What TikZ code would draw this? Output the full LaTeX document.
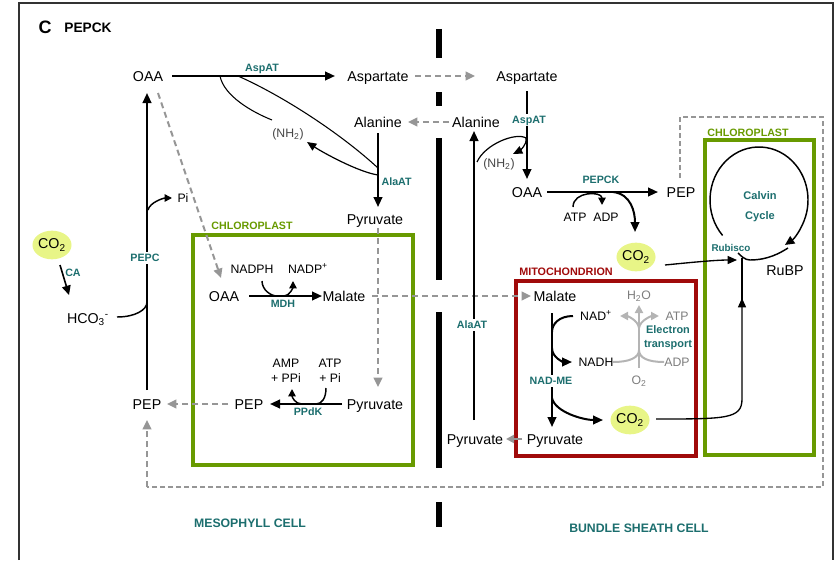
\documentclass[tikz,border=0pt]{standalone}
\usepackage{fontspec}
\setmainfont{Liberation Sans}
\usetikzlibrary{arrows.meta,calc,shapes.geometric}
\definecolor{tealc}{RGB}{28,110,110}
\definecolor{greenc}{RGB}{104,154,0}
\definecolor{redc}{RGB}{160,10,10}
\definecolor{co2fill}{RGB}{232,245,135}
\definecolor{dashc}{RGB}{150,150,150}
\definecolor{etcol}{RGB}{180,180,180}
\definecolor{graytxt}{RGB}{125,125,125}
\definecolor{nhc}{RGB}{70,70,70}
\definecolor{framec}{RGB}{50,50,50}
\tikzset{
  main/.style={font=\fontsize{10.7}{12.8}\selectfont, inner sep=1pt, text height=7.7pt, text depth=0pt},
  small/.style={font=\fontsize{9.2}{11.25}\selectfont, inner sep=1pt, text height=6.6pt, text depth=0pt},
  smallml/.style={font=\fontsize{9.2}{11.25}\selectfont, inner sep=1pt, align=center},
  enz/.style={font=\bfseries\fontsize{8}{9.5}\selectfont, text=tealc, inner sep=1pt, text height=5.7pt, text depth=0pt},
  enzml/.style={font=\bfseries\fontsize{8.2}{10.5}\selectfont, text=tealc, inner sep=1pt, align=center},
  chl/.style={font=\bfseries\fontsize{8}{9.5}\selectfont, text=greenc, inner sep=1pt},
  mit/.style={font=\bfseries\fontsize{8.1}{9.5}\selectfont, text=redc, inner sep=1pt},
  cell/.style={font=\bfseries\fontsize{9.2}{11}\selectfont, text=tealc, inner sep=1pt},
  co2/.style={ellipse, fill=co2fill, inner sep=0pt, minimum width=28.5pt, minimum height=21.5pt, font=\fontsize{10.7}{12.8}\selectfont},
  gap/.style={fill=white, inner sep=1.5pt},
  bigtip/.tip={Triangle[length=7.5pt,width=6.5pt]},
  smalltip/.tip={Triangle[length=5.5pt,width=5.5pt]},
  blk/.style={draw=black, line width=1.5pt, -bigtip},
  blkt/.style={draw=black, line width=1pt, -{Triangle[length=7pt,width=6pt]}},
  thinl/.style={draw=black, line width=0.8pt},
  thinar/.style={draw=black, line width=0.9pt, -{Triangle[length=7pt,width=6pt]}},
  cof/.style={draw=black, line width=1.1pt, -smalltip},
  gdash/.style={draw=dashc, line width=1.5pt, dash pattern=on 4.5pt off 3pt, -{Triangle[length=7pt,width=6.5pt]}},
  gsolid/.style={draw=dashc, line width=1.5pt, -{Triangle[length=6pt,width=6pt]}},
  odash/.style={draw=dashc, line width=0.8pt, dash pattern=on 3.5pt off 2.5pt},
  etl/.style={draw=etcol, line width=1.5pt, -{Triangle[length=6pt,width=6pt]}},
  etn/.style={draw=etcol, line width=1.5pt},
}
\begin{document}
\begin{tikzpicture}[x=0.75pt,y=-0.75pt]
\useasboundingbox (0,0) rectangle (838,560);
\draw[framec,line width=1pt] (19,560) -- (19,3) -- (833,3) -- (833,560);

% membrane between the cells
\foreach \a/\b in {29/58,92/106,138/280,312/468,502/527} \draw[line width=4pt] (439,\a) -- (439,\b);

% compartments
\draw[greenc,line width=2.5pt] (193,235) rectangle (413,465);
\draw[greenc,line width=2.5pt] (705,140) rectangle (814,455);
\draw[redc,line width=2.5pt] (516,281) rectangle (696,456);

% title
\node[font=\bfseries\fontsize{13.5}{16}\selectfont] (tC) at (45,27) {C};
\node[font=\bfseries\fontsize{10.3}{12}\selectfont] (tP) at (88,28) {PEPCK};

% mesophyll nodes
\node[main] (oaa1) at (148,76) {OAA};
\node[main] (asp1) at (378,76) {Aspartate};
\node[main] (asp2) at (527,76) {Aspartate};
\node[main] (ala1) at (378,122) {Alanine};
\node[main] (ala2) at (476,122) {Alanine};
\node[main] (pyr1) at (375,219) {Pyruvate};
\node[small,text=nhc] (nh2a) at (288,133) {(NH\textsubscript{2})};
\node[small] (pi) at (183,198) {Pi};
\node[co2] (co2a) at (52,245) {CO\textsubscript{2}};
\node[enz] (ca) at (73,273) {CA};
\node[main] (hco3) at (88,318) {HCO\textsubscript{3}\textsuperscript{-}};
\node[main] (pep1) at (147,404) {PEP};
\node[main] (pep2) at (249,404) {PEP};
\node[main] (pyr2) at (375,404) {Pyruvate};
\node[smallml] (amp) at (286,371) {AMP\\+ PPi};
\node[smallml] (atp1) at (330,371) {ATP\\+ Pi};
\node[enz] (ppdk) at (308,412) {PPdK};
\node[main] (oaa2) at (224,296) {OAA};
\node[main] (mal1) at (344,296) {Malate};
\node[small] (nadph) at (252,269) {NADPH};
\node[small] (nadp) at (308,269) {NADP\textsuperscript{+}};
\node[enz] (mdh) at (283,304) {MDH};
\node[chl] (chl1) at (252,226) {CHLOROPLAST};
\node[cell] (meso) at (250,523) {MESOPHYLL CELL};

% bundle sheath nodes
\node[small,text=nhc] (nh2b) at (499,163) {(NH\textsubscript{2})};
\node[main] (oaa3) at (527,192) {OAA};
\node[main] (pep3) at (681,192) {PEP};
\node[enz] (pepck) at (601,180) {PEPCK};
\node[small] (atp2) at (575,217) {ATP};
\node[small] (adp2) at (606,217) {ADP};
\node[co2] (co2b) at (636,257) {CO\textsubscript{2}};
\node[mit] (mitl) at (566,272) {MITOCHONDRION};
\node[main] (mal2) at (555,296) {Malate};
\node[small] (nadp2) at (596,316) {NAD\textsuperscript{+}};
\node[small] (nadh) at (596,362) {NADH};
\node[co2] (co2c) at (630,420) {CO\textsubscript{2}};
\node[main] (pyr3) at (555,439) {Pyruvate};
\node[main] (pyr4) at (475,439) {Pyruvate};
\node[small,text=graytxt] (h2o) at (639,295) {H\textsubscript{2}O};
\node[small,text=graytxt] (atp3) at (677,316) {ATP};
\node[small,text=graytxt] (adp3) at (677,362) {ADP};
\node[small,text=graytxt] (o2) at (639,380) {O\textsubscript{2}};
\node[enzml] (etr) at (668,338) {Electron\\transport};
\node[chl] (chl2) at (748,133) {CHLOROPLAST};
\node[enzml,font=\bfseries\fontsize{8.3}{15}\selectfont] (calv) at (760,207) {Calvin\\Cycle};
\node[enz,font=\bfseries\fontsize{7.4}{9}\selectfont] (rubl) at (731,248) {Rubisco};
\node[main] (rubp) at (785,270) {RuBP};
\node[cell] (bsc) at (639,528) {BUNDLE SHEATH CELL};
\coordinate (rub) at (742,258);
\coordinate (cc) at (759,200);
\coordinate (bsA) at (680,117);
\coordinate (bsB) at (823,117);
\coordinate (bsC) at (823,487);
\coordinate (bsD) at (147,487);

% ---- mesophyll connectors
\draw[blk] ($(oaa1)+(24,0)$) -- ($(asp1)+(-43,0)$);
\node[enz] (aspat1) at (262,68) {AspAT};
\draw[gdash] ($(asp1)+(37,0)$) -- ($(asp2)+(-52,0)$);
\draw[gdash] ($(ala2)+(-27,0)$) -- ($(ala1)+(30,0)$);
\draw[blk] ($(ala1)+(0,11)$) -- ($(pyr1)+(3,-12)$);
\node[enz,anchor=west] (alaat1) at (380,182) {AlaAT};
\draw[thinl] ($(oaa1)+(72,0)$) .. controls +(4,20) and +(-20,-8) .. ($(nh2a)+(-16,-13)$);
\draw[thinl] ($(oaa1)+(90,0)$) .. controls +(45,20) and +(-38,-35) .. ($(ala1)+(0,46)$);
\draw[thinar] ($(ala1)+(0,53)$) .. controls +(-20,-3) and +(15,10) .. ($(nh2a)+(19,9)$);

\draw[blk] ($(pep1)+(0,-14)$) -- ($(oaa1)+(-1,17)$);
\node[enz,gap] (pepc) at (145,258) {PEPC};
\draw[cof] ($(pi)+(-35,12)$) .. controls +(2,-8) and +(-8,0) .. ($(pi)+(-11,0)$);
\draw[line width=1.2pt,-{Triangle[length=7pt,width=6.5pt]}] ($(co2a)+(8,20)$) -- ($(hco3)+(-19,-23)$);
\draw[line width=1.1pt] ($(hco3)+(29,-1)$) .. controls +(18,0) and +(0,8) .. ($(pep1)+(0,-102)$);

\draw[gdash] ($(oaa1)+(10,17)$) -- ($(oaa2)+(-3,-18)$);
\draw[gdash] ($(pyr1)+(3,9)$) -- ($(pyr2)+(3,-17)$);
\draw[blk] ($(oaa2)+(25,0)$) -- ($(mal1)+(-22,0)$);
\draw[line width=1.1pt] ($(nadph)+(10,12)$) .. controls +(0,9) and +(-6,0) .. ($(mdh)+(-6,-8)$);
\draw[cof] ($(mdh)+(1,-8)$) .. controls +(6,0) and +(0,6) .. ($(nadp)+(-15,12)$);
\draw[gdash] ($(mal1)+(28,0)$) -- ($(mal2)+(-24,0)$);
\draw[blk] ($(pyr2)+(-33,0)$) -- ($(pep2)+(21,0)$);
\draw[line width=1.1pt] ($(atp1)+(-4,17)$) .. controls +(0,10) and +(6,0) .. ($(ppdk)+(8,-8)$);
\draw[cof] ($(ppdk)+(-6,-8)$) .. controls +(-7,0) and +(0,8) .. ($(amp)+(6,18)$);
\draw[gdash] ($(pep2)+(-21,0)$) -- ($(pep1)+(20,0)$);

% return of PEP
\draw[odash] ($(pep3)+(-1,-14)$) -- (bsA) -- (bsB) -- (bsC) -- (bsD);
\draw[gdash] (bsD) -- ($(pep1)+(0,16)$);

% ---- bundle sheath connectors
\draw[blk] ($(asp2)+(0,15)$) -- ($(oaa3)+(0,-13)$);
\node[enz,gap] (aspat2) at (529,120) {AspAT};
\draw[blk] ($(pyr4)+(-1,-19)$) -- ($(ala2)+(-2,9)$);
\node[enz,gap] (alaat2) at (472,325) {AlaAT};
\draw[thinar] ($(ala2)+(1,40)$) .. controls +(8,-18) and +(-10,-6) .. ($(asp2)+(-1,62)$) .. controls +(2,6) and +(6,-3) .. ($(nh2b)+(14,-9)$);

\draw[blk] ($(oaa3)+(20,0)$) -- ($(pep3)+(-23,0)$);
\draw[cof] ($(atp2)+(-2,-10)$) .. controls +(0,-16) and +(0,-14) .. ($(adp2)+(-4,-12)$);
\draw[blk] ($(pepck)+(12,12)$) .. controls +(18,2) and +(0,-20) .. ($(co2b)+(-1,-25)$);
\draw[blkt] ($(co2b)+(29,8)$) .. controls +(30,-3) and +(-20,0) .. ($(rub)+(-5,2)$);

% Calvin cycle
\draw[line width=1.1pt,-{Triangle[length=7pt,width=6.5pt]}] ($(cc)+(138:49 and 53)$) arc[start angle=138,end angle=418,x radius=49,y radius=53];
\draw[line width=1.1pt] ($(rub)+(-4,-5)$) .. controls +(3,3) and +(-5,0) .. ($(rub)+(8,2)$) .. controls +(18,0) and +(-8,5) .. ($(cc)+(29,48)$);

% mitochondrion
\draw[blk] ($(mal2)+(-3,17)$) -- ($(pyr3)+(-3,-12)$);
\node[enz,gap] (nadme) at (551,381) {NAD-ME};
\draw[line width=1.5pt] ($(nadp2)+(-23,0)$) .. controls +(-14,0) and +(0,-8) .. ($(mal2)+(-3,36)$);
\draw[blk] ($(mal2)+(-3,52)$) .. controls +(0,10) and +(-8,0) .. ($(nadh)+(-24,0)$);
\draw[blk] ($(pyr3)+(-3,-41)$) .. controls +(3,14) and +(-20,0) .. ($(co2c)+(-27,0)$);
\draw[gsolid] ($(pyr3)+(-33,0)$) -- ($(pyr4)+(31,0)$);

% electron transport
\coordinate (etb) at ($(h2o)+(0,33)$);
\draw[etl] ($(o2)+(0,-12)$) -- ($(h2o)+(0,10)$);
\draw[etl] (etb) .. controls +(-1,-8) and +(7,0) .. ($(nadp2)+(24,0)$);
\draw[etl] (etb) .. controls +(1,-8) and +(-7,0) .. ($(atp3)+(-18,0)$);
\draw[etn] ($(nadh)+(17,0)$) .. controls +(16,0) and +(0,8) .. ($(o2)+(0,-30)$);
\draw[etn] ($(adp3)+(-13,0)$) .. controls +(-16,0) and +(0,8) .. ($(o2)+(0,-30)$);

% CO2 from mitochondrion to Rubisco
\draw[blkt] ($(co2c)+(26,-1)$) .. controls +(70,0) and +(0,20) .. ($(rub)+(0,141)$) -- ($(rub)+(0,40)$);
\draw[line width=1pt] ($(rub)+(0,42)$) -- (rub);
\end{tikzpicture}
\end{document}
